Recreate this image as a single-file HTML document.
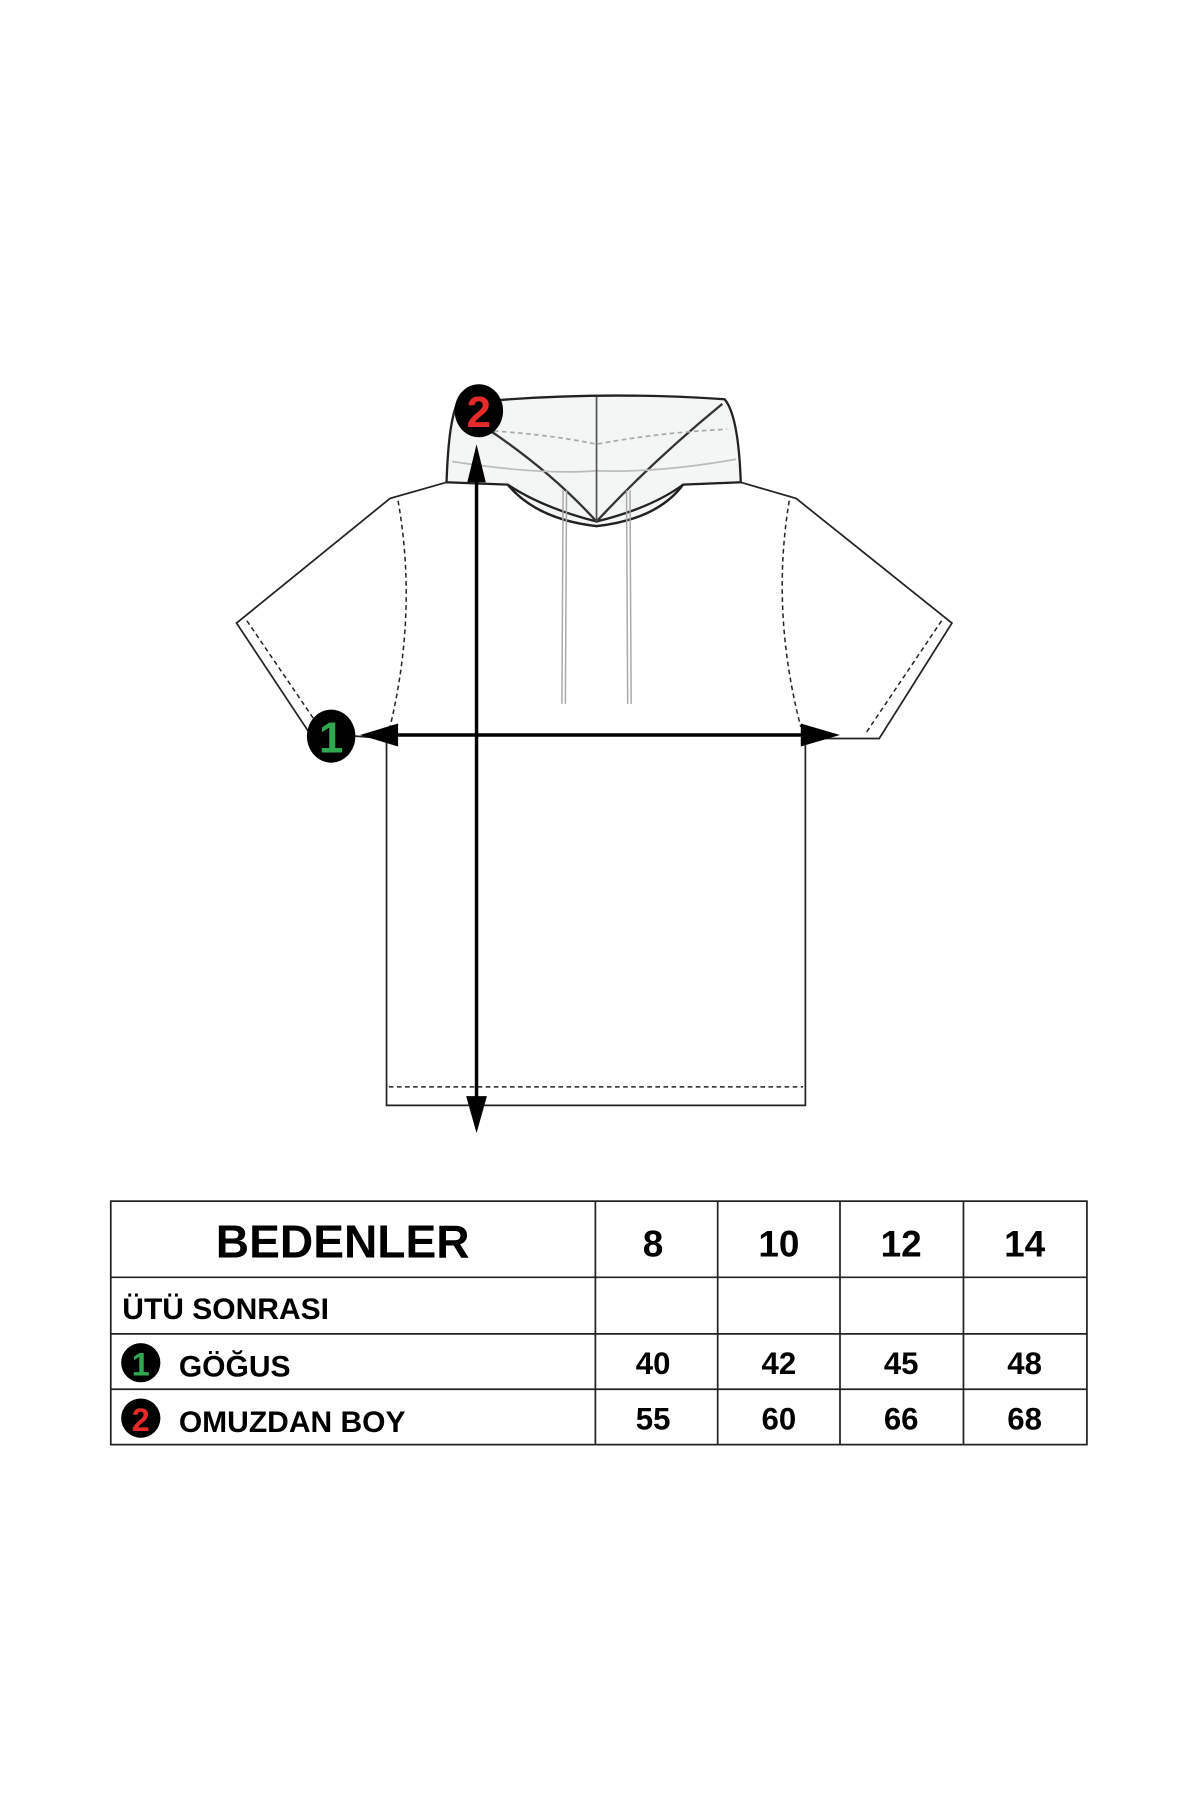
<!DOCTYPE html>
<html><head><meta charset="utf-8"><style>
html,body{margin:0;padding:0;background:#fff;}
svg{display:block;}
text{font-family:"Liberation Sans",sans-serif;font-weight:bold;}
</style></head><body>
<svg width="1200" height="1800" viewBox="0 0 1040 1560" xmlns="http://www.w3.org/2000/svg">
<rect width="1040" height="1560" fill="#fff"/>
<!-- body -->
<path d="M387,418 L338,432 L205,540 L268,635 L335,640 L335,958 L698,958 L698,640 L762,640 L825,540 L690,432 L642,418" fill="#fff" stroke="#222" stroke-width="1.5"/>
<!-- hood -->
<path d="M440,420 Q465,450 517,456 Q570,450 592,420 Z" fill="#f4f6f6" stroke="#222" stroke-width="2"/>
<path d="M387,418 C388,390 390,365 396,350 Q510,338 628,346 Q640,360 642,418 L592,420 Q565,440 517,452 Q470,440 440,420 Z" fill="#f4f6f6" stroke="#222" stroke-width="2"/>
<path d="M398,356 Q470,400 517,452 Q565,400 626,350" fill="none" stroke="#333" stroke-width="2"/>
<path d="M400,372 Q470,375 517,385 Q570,375 630,372" fill="none" stroke="#aaa" stroke-width="1.5" stroke-dasharray="4,3"/>
<path d="M392,400 Q470,412 517,408 Q570,410 638,398" fill="none" stroke="#bbb" stroke-width="1.5"/>
<line x1="517" y1="344" x2="517" y2="452" stroke="#555" stroke-width="1.5"/>
<path d="M440,420 Q465,450 517,456 Q570,450 592,420" fill="none" stroke="#222" stroke-width="2"/>
<path d="M345,434 Q362,530 338,630" fill="none" stroke="#222" stroke-width="1.3" stroke-dasharray="4,3"/>
<path d="M684,434 Q668,530 694,630" fill="none" stroke="#222" stroke-width="1.3" stroke-dasharray="4,3"/>
<line x1="214" y1="538" x2="278" y2="632" stroke="#222" stroke-width="1.3" stroke-dasharray="4,3"/>
<line x1="816" y1="538" x2="750" y2="636" stroke="#222" stroke-width="1.3" stroke-dasharray="4,3"/>
<line x1="337" y1="942" x2="696" y2="942" stroke="#222" stroke-width="1.3" stroke-dasharray="4,3"/>
<!-- drawstrings -->
<path d="M488,425 L487,610 M491,425 L490,610 M543,425 L544,610 M546,425 L547,610" stroke="#aaa" stroke-width="1.3" fill="none"/>
<!-- arrows -->
<line x1="413" y1="400" x2="413" y2="965" stroke="#000" stroke-width="3"/>
<polygon points="413,385 405,418 421,418" fill="#000"/>
<polygon points="413,982 404,950 422,950" fill="#000"/>
<line x1="320" y1="637" x2="710" y2="637" stroke="#000" stroke-width="3"/>
<polygon points="312,637 345,627 345,647" fill="#000"/>
<polygon points="728,637 694,627 694,647" fill="#000"/>
<!-- badges -->
<ellipse cx="287" cy="638" rx="21" ry="23" fill="#000"/>
<text x="287" y="652" font-size="38" fill="#2fa84f" text-anchor="middle">1</text>
<ellipse cx="415" cy="356" rx="21" ry="23" fill="#000"/>
<text x="415" y="370" font-size="38" fill="#e52a2a" text-anchor="middle">2</text>
<!-- table -->
<g stroke="#222" stroke-width="1.5" fill="none">
<rect x="96" y="1041" width="846" height="211"/>
<line x1="96" y1="1107" x2="942" y2="1107"/>
<line x1="96" y1="1156" x2="942" y2="1156"/>
<line x1="96" y1="1204" x2="942" y2="1204"/>
<line x1="516" y1="1041" x2="516" y2="1252"/>
<line x1="622" y1="1041" x2="622" y2="1252"/>
<line x1="728" y1="1041" x2="728" y2="1252"/>
<line x1="835" y1="1041" x2="835" y2="1252"/>
</g>
<text x="297" y="1090" font-size="40" text-anchor="middle" fill="#000">BEDENLER</text>
<g font-size="32" text-anchor="middle" fill="#000">
<text x="566" y="1089">8</text><text x="675" y="1089">10</text><text x="781" y="1089">12</text><text x="888" y="1089">14</text>
</g>
<text x="106" y="1143" font-size="26" fill="#000">ÜTÜ SONRASI</text>
<ellipse cx="122" cy="1181" rx="17" ry="17" fill="#000"/>
<text x="122" y="1192" font-size="28" fill="#2fa84f" text-anchor="middle">1</text>
<text x="155" y="1193" font-size="26" fill="#000">GÖĞUS</text>
<ellipse cx="122" cy="1229" rx="17" ry="17" fill="#000"/>
<text x="122" y="1240" font-size="28" fill="#e52a2a" text-anchor="middle">2</text>
<text x="155" y="1241" font-size="26" fill="#000">OMUZDAN BOY</text>
<g font-size="27" text-anchor="middle" fill="#000">
<text x="566" y="1191">40</text><text x="675" y="1191">42</text><text x="781" y="1191">45</text><text x="888" y="1191">48</text>
<text x="566" y="1239">55</text><text x="675" y="1239">60</text><text x="781" y="1239">66</text><text x="888" y="1239">68</text>
</g>
</svg>
</body></html>
